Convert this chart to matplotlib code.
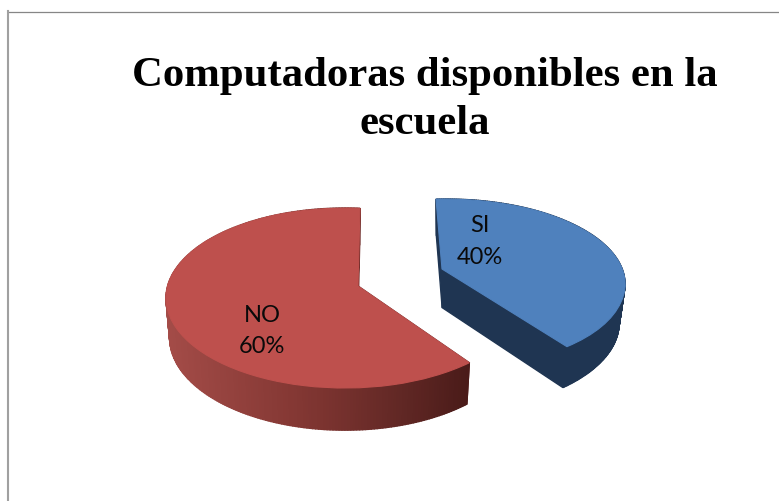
import numpy as np
import matplotlib
matplotlib.use("Agg")
import matplotlib.pyplot as plt
from matplotlib.patches import Polygon
from matplotlib.transforms import Transform
from matplotlib.colors import to_rgb

title = "Computadoras disponibles en la\nescuela"
categories = ["SI", "NO"]
values = [40, 60]
top_colors = ["#4F81BD", "#BE504D"]


class Tilted(Transform):
    """Maps the unit pie slice onto a tilted rim ellipse with an off-centre tip."""
    input_dims = 2
    output_dims = 2
    is_separable = False
    has_inverse = False

    def __init__(self, theta1, theta2, tip, centre, rx, ry, phi1, phi2):
        super().__init__()
        self.t1, self.t2 = theta1, theta2
        self.tip = np.array(tip, float)
        self.c = np.array(centre, float)
        self.rx, self.ry = rx, ry
        self.p1, self.p2 = phi1, phi2

    def transform_non_affine(self, values):
        v = np.asarray(values, float).reshape(-1, 2)
        r = np.hypot(v[:, 0], v[:, 1])
        base = (self.t1 + self.t2) / 2 - 180
        th = base + (np.degrees(np.arctan2(v[:, 1], v[:, 0])) - base) % 360
        phi = np.radians(self.p1 + (th - self.t1) * (self.p2 - self.p1) / (self.t2 - self.t1))
        rim = np.c_[self.c[0] + self.rx * np.cos(phi), self.c[1] - self.ry * np.sin(phi)]
        return self.tip + r[:, None] * (rim - self.tip)


fig = plt.figure(figsize=(7.79, 5.02), dpi=100)
ax = fig.add_axes([0, 0, 1, 1])
wedges, _ = ax.pie(values, startangle=90, counterclock=False, colors=top_colors,
                   wedgeprops={"linewidth": 0.8, "zorder": 3})
ax.set_aspect("auto")
ax.set_xlim(0, 779)
ax.set_ylim(502, 0)
ax.set_axis_off()

geom = {
    "SI": dict(tip=(442, 270), centre=(446, 285), rx=179, ry=85, phi1=-47.5, phi2=93.2),
    "NO": dict(tip=(358, 287), centre=(345, 299), rx=179, ry=90, phi1=85.2, phi2=314),
}
taper = {"SI": 0.033, "NO": 0.02}


def depth(y):
    return 36.5 + (y - 200) * 0.03


def red_shade(x):
    stops_x = [166, 300, 400, 470]
    stops = np.array([to_rgb(c) for c in ["#A44C48", "#833733", "#622825", "#4A1B19"]])
    return [np.interp(x, stops_x, stops[:, i]) for i in range(3)]


for w, name, c in zip(wedges, categories, top_colors):
    w.set_edgecolor(c)
    H = Tilted(w.theta1, w.theta2, **geom[name])
    w.set_transform(H + ax.transData)
    th = np.radians(np.linspace(w.theta1, w.theta2, 240))
    rim = H.transform_non_affine(np.c_[np.cos(th), np.sin(th)])
    tip = H.tip.reshape(1, 2)
    cx = H.c[0]

    def low(p):
        return p + [-(p[0] - cx) * taper[name], depth(p[1])]

    # the cut faces first, so that the outer wall lies over them
    segments = [(tip[0], rim[0]), (tip[0], rim[-1])] + list(zip(rim[:-1], rim[1:]))
    for p, q in segments:
        mx = (p[0] + q[0]) / 2
        col = "#1F3552" if name == "SI" else red_shade(mx)
        ax.add_patch(Polygon([p, q, low(q), low(p)], closed=True, facecolor=col,
                             edgecolor=col, linewidth=1.0, zorder=2))

label_pos = {"SI": (480, 241.5), "NO": (262, 331)}
for name, val in zip(categories, values):
    x, y = label_pos[name]
    ax.text(x, y, f"{name}\n{val}%", ha="center", va="center", family="Lato", fontsize=17,
            linespacing=1.6, color="#0a0a0a", zorder=5)

ax.text(425, 100, title, ha="center", va="center", family="Liberation Serif", weight="bold",
        fontsize=30.8, linespacing=1.34, color="black", zorder=5)

ax.plot([779, 8], [12.5, 12.5], color="#868686", lw=0.9, zorder=1)
ax.plot([8.5, 8.5], [12, 502], color="#A0A0A0", lw=1.5, zorder=1)

fig.savefig("out.png", dpi=100, facecolor="white")
